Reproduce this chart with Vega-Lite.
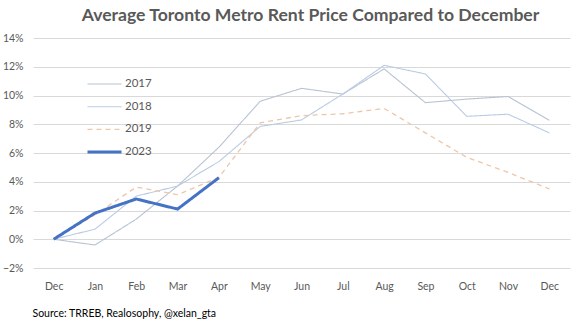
{
  "$schema": "https://vega.github.io/schema/vega-lite/v6.json",
  "width": 537,
  "height": 230,
  "autosize": {"type": "none"},
  "padding": {"left": 33, "top": 38, "right": 7, "bottom": 55},
  "background": "white",
  "config": {"view": {"stroke": null}, "font": "Lato"},
  "title": {
    "text": "Average Toronto Metro Rent Price Compared to December",
    "font": "Lato",
    "fontSize": 17.6,
    "fontWeight": "bold",
    "color": "#595959",
    "anchor": "middle",
    "dx": 9,
    "baseline": "alphabetic",
    "offset": -6
  },
  "data": {
    "values": [
      {"m": 0, "year": "2017", "v": 0.0},
      {"m": 1, "year": "2017", "v": -0.004},
      {"m": 2, "year": "2017", "v": 0.014},
      {"m": 3, "year": "2017", "v": 0.037},
      {"m": 4, "year": "2017", "v": 0.064},
      {"m": 5, "year": "2017", "v": 0.096},
      {"m": 6, "year": "2017", "v": 0.105},
      {"m": 7, "year": "2017", "v": 0.101},
      {"m": 8, "year": "2017", "v": 0.1185},
      {"m": 9, "year": "2017", "v": 0.095},
      {"m": 10, "year": "2017", "v": 0.0975},
      {"m": 11, "year": "2017", "v": 0.0993},
      {"m": 12, "year": "2017", "v": 0.0827},
      {"m": 0, "year": "2018", "v": 0.0},
      {"m": 1, "year": "2018", "v": 0.007},
      {"m": 2, "year": "2018", "v": 0.030},
      {"m": 3, "year": "2018", "v": 0.037},
      {"m": 4, "year": "2018", "v": 0.054},
      {"m": 5, "year": "2018", "v": 0.0785},
      {"m": 6, "year": "2018", "v": 0.083},
      {"m": 7, "year": "2018", "v": 0.101},
      {"m": 8, "year": "2018", "v": 0.121},
      {"m": 9, "year": "2018", "v": 0.115},
      {"m": 10, "year": "2018", "v": 0.0855},
      {"m": 11, "year": "2018", "v": 0.087},
      {"m": 12, "year": "2018", "v": 0.074},
      {"m": 0, "year": "2019", "v": 0.0},
      {"m": 1, "year": "2019", "v": 0.017},
      {"m": 2, "year": "2019", "v": 0.0363},
      {"m": 3, "year": "2019", "v": 0.031},
      {"m": 4, "year": "2019", "v": 0.043},
      {"m": 5, "year": "2019", "v": 0.081},
      {"m": 6, "year": "2019", "v": 0.086},
      {"m": 7, "year": "2019", "v": 0.0873},
      {"m": 8, "year": "2019", "v": 0.091},
      {"m": 9, "year": "2019", "v": 0.074},
      {"m": 10, "year": "2019", "v": 0.057},
      {"m": 11, "year": "2019", "v": 0.0465},
      {"m": 12, "year": "2019", "v": 0.035},
      {"m": 0, "year": "2023", "v": 0.0},
      {"m": 1, "year": "2023", "v": 0.0182},
      {"m": 2, "year": "2023", "v": 0.028},
      {"m": 3, "year": "2023", "v": 0.021},
      {"m": 4, "year": "2023", "v": 0.0428}
    ]
  },
  "mark": {"type": "line", "strokeCap": "butt", "strokeJoin": "miter"},
  "encoding": {
    "x": {
      "field": "m",
      "type": "ordinal",
      "scale": {"type": "point", "padding": 0.5},
      "axis": {
        "labelAngle": 0,
        "labelExpr": "['Dec','Jan','Feb','Mar','Apr','May','Jun','Jul','Aug','Sep','Oct','Nov','Dec'][datum.value]",
        "labelFont": "Lato",
        "labelFontSize": 10.5,
        "labelColor": "#595959",
        "labelPadding": 13,
        "ticks": false,
        "tickSize": 0,
        "domain": false,
        "grid": false,
        "title": "Source: TRREB, Realosophy, @xelan_gta",
        "titleFont": "Lato",
        "titleFontSize": 10.5,
        "titleFontWeight": "normal",
        "titleColor": "#000000",
        "titleAnchor": "start",
        "titleAlign": "left",
        "titleBaseline": "alphabetic",
        "titleX": -1,
        "titleY": 48
      }
    },
    "y": {
      "field": "v",
      "type": "quantitative",
      "scale": {"domain": [-0.02, 0.14], "nice": false, "zero": false},
      "axis": {
        "values": [-0.02, 0, 0.02, 0.04, 0.06, 0.08, 0.1, 0.12, 0.14],
        "format": ".0%",
        "labelFont": "Lato",
        "labelFontSize": 10.5,
        "labelColor": "#595959",
        "labelPadding": 10,
        "ticks": false,
        "tickSize": 0,
        "domain": false,
        "grid": true,
        "gridColor": "#d9d9d9",
        "gridWidth": 1,
        "title": null
      }
    },
    "color": {
      "field": "year",
      "type": "ordinal",
      "scale": {"type": "ordinal", "domain": ["2017", "2018", "2019", "2023"], "range": ["#b8c3d2", "#bacbe5", "#eec6a9", "#4472c4"]},
      "legend": {
        "title": null,
        "orient": "none",
        "legendX": 53,
        "legendY": 36,
        "symbolType": "stroke",
        "symbolSize": 1156,
        "labelFont": "Lato",
        "labelFontSize": 11.5,
        "labelColor": "#595959",
        "labelOffset": 2,
        "clipHeight": 20,
        "rowPadding": 2.7,
        "padding": 0
      }
    },
    "strokeDash": {
      "field": "year",
      "type": "ordinal",
      "scale": {"type": "ordinal", "domain": ["2017", "2018", "2019", "2023"], "range": [[1, 0], [1, 0], [5, 4], [1, 0]]},
      "legend": {
        "title": null,
        "orient": "none",
        "legendX": 53,
        "legendY": 36,
        "symbolType": "stroke",
        "symbolSize": 1156,
        "labelFont": "Lato",
        "labelFontSize": 11.5,
        "labelColor": "#595959",
        "labelOffset": 2,
        "clipHeight": 20,
        "rowPadding": 2.7,
        "padding": 0
      }
    },
    "strokeWidth": {
      "field": "year",
      "type": "ordinal",
      "scale": {"type": "ordinal", "domain": ["2017", "2018", "2019", "2023"], "range": [1.1, 1.1, 1.3, 3]},
      "legend": {
        "title": null,
        "orient": "none",
        "legendX": 53,
        "legendY": 36,
        "symbolType": "stroke",
        "symbolSize": 1156,
        "labelFont": "Lato",
        "labelFontSize": 11.5,
        "labelColor": "#595959",
        "labelOffset": 2,
        "clipHeight": 20,
        "rowPadding": 2.7,
        "padding": 0
      }
    },
    "order": {"field": "m", "type": "quantitative"}
  }
}
